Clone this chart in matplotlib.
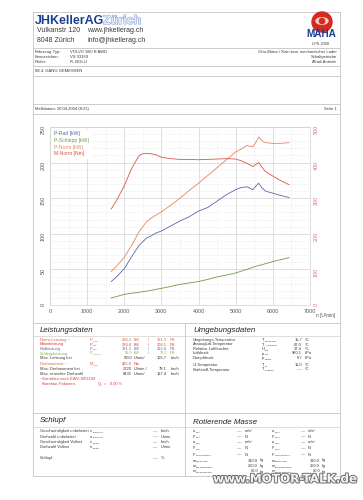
import matplotlib.pyplot as plt
from matplotlib import rcParams
from matplotlib.ticker import MultipleLocator
from matplotlib.patches import Circle, Ellipse
import matplotlib.patheffects as pe

rcParams["font.family"] = ["Liberation Sans", "DejaVu Sans"]

W, H = 363, 500
TXT = "#3a3a3a"
GRID = "#d2d2d2"
FRAME = "#c4c4c4"
C_RAD = "#5a68a8"
C_SCHLEPP = "#6f9a45"
C_PNORM = "#e8845e"
C_MNORM = "#d9564a"
C_RIGHT = "#e07070"

rpm = [1650, 1800, 2000, 2200, 2400, 2500, 2600, 2720, 2850, 3000, 3250, 3500,
       3750, 4000, 4250, 4500, 4750, 5000, 5150, 5300, 5460, 5560, 5620, 5700,
       5800, 6000, 6200, 6435]
p_rad = [33, 40, 51, 68, 84, 89, 94, 97, 101, 104, 111, 118,
         124, 132, 137, 146, 155, 162, 165, 166, 162, 168, 171, 165,
         160, 157, 154, 151]
p_schlepp = [10, 12, 15, 16.5, 18, 18.7, 19.5, 20.5, 22, 23.4, 26, 29,
             31, 33, 36, 39.5, 42, 45, 47.5, 50, 53, 54.5, 55.5, 56.5,
             58, 61, 63.5, 66.5]
p_norm = [47, 55, 67, 84, 103, 110, 117, 122, 126, 131, 140, 150,
          161, 171, 182, 193, 204, 215, 219, 224, 222, 230, 236, 231,
          228, 227, 227, 228]
m_norm = [270, 295, 335, 384, 420, 425, 426, 425, 422, 415, 411, 409,
          409, 408, 409, 410, 411, 410, 405, 398, 389, 396, 400, 388,
          375, 362, 350, 338]

rpm_ticks = [0, 1000, 2000, 3000, 4000, 5000, 6000, 7000]
kw_ticks = [0, 50, 100, 150, 200, 250]
nm_ticks = [0, 100, 200, 300, 400, 500]
series_labels = ["P-Rad [kW]", "P-Schlepp [kW]", "P-Norm [kW]", "M-Norm [Nm]"]

# table contents
leistung_rows = [
    ("Norm-Leistung ~", "P", "Norm", "236.2", "kW", "321.1", "PS", "#e0603e"),
    ("Motorleistung", "P", "Mot", "226.6", "kW", "308.1", "PS", "#d23c3c"),
    ("Radleistung", "P", "Rad", "171.1", "kW", "232.6", "PS", "#5a68a8"),
    ("Schleppleistung", "P", "Schlepp", "55.5", "kW", "75.5", "PS", "#8ab040"),
]
leistung_extra = [
    ("Max. Leistung bei", "5650", "U/min/", "165.7", "km/h"),
    ("Max. Drehmoment bei", "2720", "U/min /", "79.1", "km/h"),
    ("Max. erreichte Drehzahl", "6435", "U/min/", "187.4", "km/h"),
]
umgebung_rows = [
    ("Umgebungs-Temperatur", "T", "Umgebung", "15.7", "°C"),
    ("Ansaugluft-Temperatur", "T", "Ansaugluft", "67.0", "°C"),
    ("Relative Luftfeuchte", "H", "Luft", "37.4", "%"),
    ("Luftdruck", "p", "Luft", "960.1", "hPa"),
    ("Dampfdruck", "p", "Dampf", "6.7", "hPa"),
    ("Öl-Temperatur", "T", "Öl", "11.0", "°C"),
    ("Kraftstoff-Temperatur", "T", "Kraftstoff", "----", "°C"),
]
schlupf_rows = [
    ("Geschwindigkeit unbelastet", "v", "unbelastet", "km/h"),
    ("Drehzahl unbelastet", "n", "unbelastet", "U/min"),
    ("Geschwindigkeit Vollast", "v", "Vollast", "km/h"),
    ("Drehzahl Vollast", "n", "Vollast", "U/min"),
    ("Schlupf", "", "", "%"),
]
masse_left = [
    ("a", "1,ist", "----", "m/s²"), ("F", "1,ist", "----", "N"),
    ("a", "2,ist", "----", "m/s²"), ("F", "2,ist", "----", "N"),
    ("F", "Rollwiderstand", "----", "N"), ("m", "Fzg,gesamt", "310.0", "kg"),
    ("m", "Fzg,angetrieben", "250.0", "kg"), ("m", "Fzg,nichtangetr.", "60.0", "kg"),
]
masse_right = [
    ("a", "1,soll", "----", "m/s²"), ("F", "1,soll", "----", "N"),
    ("a", "2,soll", "----", "m/s²"), ("F", "2,soll", "----", "N"),
    ("F", "Rollwiderstand", "----", "N"), ("m", "Fzg,gesamt", "310.0", "kg"),
    ("m", "Fzg,angetrieben", "250.0", "kg"), ("m", "Fzg,nichtangetr.", "60.0", "kg"),
]

fig = plt.figure(figsize=(W / 100, H / 100), dpi=100)
bg = fig.add_axes([0, 0, 1, 1])
bg.set_xlim(0, W)
bg.set_ylim(H, 0)
bg.axis("off")


def t(x, y, s, size=2.9, color=TXT, ha="left", **kw):
    bg.text(x, y, s, fontsize=size, color=color, ha=ha, va="center", **kw)


def sym(x, y, base, sub, size=2.9, color=TXT):
    if not base:
        return
    t(x, y, base, size, color)
    t(x + size * 0.95, y + 1.0, sub, size * 0.6, color)


def hline(y, x0=33, x1=340, lw=0.6):
    bg.plot([x0, x1], [y, y], color=FRAME, lw=lw)


# page frame
bg.plot([33, 340, 340, 33, 33], [12, 12, 476, 476, 12], color=FRAME, lw=0.6)
for y in [48, 66, 76, 104, 114, 323, 413]:
    hline(y)
hline(336, lw=0.4)
hline(427, lw=0.4)
bg.plot([185, 185], [323, 476], color=FRAME, lw=0.6)

# letterhead
t(35, 21, "JHKellerAG", 9, "#1c3f94", weight="bold")
t(103, 21, "Zürich", 9, "#e4ecfa", weight="bold",
  path_effects=[pe.withStroke(linewidth=0.7, foreground="#7f9ad6")])
t(37, 31, "Vulkanstr 120", 5)
t(87, 31, "www.jhkellerag.ch", 5)
t(37, 40, "8048 Zürich", 5)
t(87, 40, "info@jhkellerag.ch", 5)

bg.add_patch(Circle((322, 22), 10, color="#d42a20", zorder=3))
bg.add_patch(Ellipse((322, 21), 12, 6.5, color="#f4d0c8", zorder=4))
bg.add_patch(Circle((322, 21), 2.6, color="#d42a20", zorder=5))
bg.text(321, 34, "MAHA", fontsize=7.2, color="#1c3f94", weight="bold",
        ha="center", va="center", zorder=6)
t(321, 44, "LPS 2000", 2.8, ha="center")

t(35, 52, "Fahrzeug-Typ:", 3)
t(70, 52, "VOLVO S60 R AWD", 3)
t(35, 57, "Kennzeichen:", 3)
t(70, 57, "VS 33169", 3)
t(35, 62, "Prüfer:", 3)
t(70, 62, "R. BOLLI", 3)
t(337, 52, "Otto-Motor / Kein bzw. mechanischer Lader", 3, ha="right")
t(337, 57, "Schaltgetriebe", 3, ha="right")
t(337, 62, "Allrad-Antrieb", 3, ha="right")
t(35, 71, "IM 4. GANG GEMESSEN", 3)
t(35, 109.3, "Meßdatum: 20.04.2004 (8:21)", 3)
t(337, 109.3, "Seite 1", 3, ha="right")

# chart
ax = fig.add_axes([50 / W, 1 - 305 / H, 260 / W, 178 / H])
ax.patch.set_alpha(0)
ax.plot(rpm, p_rad, color=C_RAD, lw=0.6, label=series_labels[0])
ax.plot(rpm, p_schlepp, color=C_SCHLEPP, lw=0.6, label=series_labels[1])
ax.plot(rpm, p_norm, color=C_PNORM, lw=0.6, label=series_labels[2])
ax.set_xlim(0, 7000)
ax.set_ylim(0, 250)
ax.set_xticks(rpm_ticks)
ax.set_yticks(kw_ticks)
ax.xaxis.set_minor_locator(MultipleLocator(500))
ax.yaxis.set_minor_locator(MultipleLocator(10))
ax.grid(which="major", color=GRID, lw=0.5)
ax.grid(which="minor", color="#e2e2e2", lw=0.4, ls=(0, (2, 2)))
ax.set_axisbelow(True)
ax.tick_params(which="both", length=0, labelsize=3.9, labelcolor="#555555", pad=3)
ax.tick_params(axis="y", labelrotation=90)
for s in ax.spines.values():
    s.set_color(GRID)
    s.set_linewidth(0.5)

ax2 = ax.twinx()
ax2.plot(rpm, m_norm, color=C_MNORM, lw=0.6, label=series_labels[3])
ax2.set_ylim(0, 500)
ax2.set_yticks(nm_ticks)
ax2.tick_params(length=0, labelsize=3.9, labelcolor=C_RIGHT, pad=2.5, labelrotation=90)
for s in ax2.spines.values():
    s.set_visible(False)

handles = ax.get_lines() + ax2.get_lines()
leg = ax2.legend(handles, series_labels, loc="upper left", handlelength=0,
                 handletextpad=0, fontsize=3.6, labelcolor="linecolor",
                 frameon=True, facecolor="white", edgecolor="none",
                 framealpha=1, borderpad=0.6, labelspacing=0.3,
                 borderaxespad=0.3)
fig.text(326 / W, 1 - 315 / H, "n [U/min]", fontsize=3.4, color="#555555",
         ha="center", va="center")

# Leistungsdaten
t(40, 330, "Leistungsdaten", 5.7, "#222222", style="italic")
ly = [340, 344.5, 349, 353.5]
for y, (lab, b, sb, v1, u1, v2, u2, col) in zip(ly, leistung_rows):
    t(40, y, lab, color=col)
    sym(90, y, b, sb, color=col)
    t(132, y, v1, color=col, ha="right")
    t(134, y, u1, color=col)
    t(148, y, "/", color=col)
    t(167, y, v2, color=col, ha="right")
    t(170, y, u2, color=col)

ey = [358.3, 368.5, 374.3]
for y, (lab, v1, u1, v2, u2) in zip(ey, leistung_extra):
    t(40, y, lab)
    t(132, y, v1, ha="right")
    t(134, y, u1)
    t(167, y, v2, ha="right")
    t(171, y, u2)

t(40, 364, "Drehmoment ~", color="#e0603e")
sym(90, 364, "M", "Norm", color="#e0603e")
t(132, 364, "425.0", color="#d23c3c", ha="right")
t(134, 364, "Nm", color="#d23c3c")
t(40, 379.5, "~Korrektur nach EWG 80/1269", color="#d23c3c")
t(42, 384, "Korrektur-Faktoren:", color="#d23c3c")
sym(98, 384, "Q", "c", color="#d23c3c")
t(104, 384, "=", color="#d23c3c")
t(110, 384, "0.00 %", color="#d23c3c")

# Umgebungsdaten
t(193, 330, "Umgebungsdaten", 5.7, "#222222", style="italic")
uy = [340, 344.5, 349, 353.5, 358.3, 365, 369.5]
for y, (lab, b, sb, v, u) in zip(uy, umgebung_rows):
    t(193, y, lab)
    sym(262, y, b, sb)
    t(302, y, v, ha="right")
    t(305, y, u)

# Schlupf
t(40, 421, "Schlupf", 5.7, "#222222", style="italic")
sy = [431, 436.5, 442, 447.5, 458]
for y, (lab, b, sb, u) in zip(sy, schlupf_rows):
    t(40, y, lab)
    sym(90, y, b, sb)
    t(158, y, "----", ha="right")
    t(161, y, u)

# Rotierende Masse
t(193, 423, "Rotierende Masse", 5.7, "#222222", style="italic")
my = [431, 436.5, 442, 448, 454.5, 460.5, 466, 471.5]
for y, (b, sb, v, u) in zip(my, masse_left):
    sym(193, y, b, sb)
    if v == "----":
        t(242, y, v, ha="right")
        t(245, y, u)
    else:
        t(258, y, v, ha="right")
        t(260, y, u)
for y, (b, sb, v, u) in zip(my, masse_right):
    sym(272, y, b, sb)
    if v == "----":
        t(306, y, v, ha="right")
        t(308, y, u)
    else:
        t(320, y, v, ha="right")
        t(322, y, u)

# watermark
bg.text(285, 479, "www.MOTOR-TALK.de", fontsize=8.6, family="DejaVu Sans",
        weight="bold", color="#f2f2f2", ha="center", va="center", zorder=10,
        path_effects=[pe.withStroke(linewidth=1.4, foreground="#6e6e6e")])

fig.savefig("out.png", dpi=100)
